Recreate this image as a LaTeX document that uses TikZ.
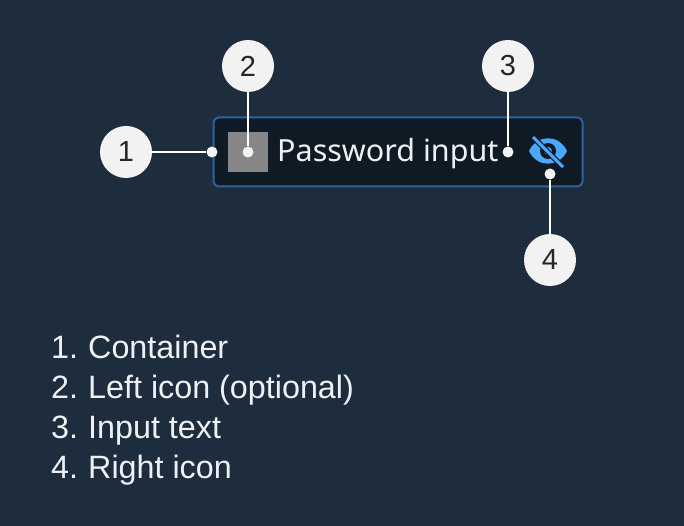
\documentclass[tikz,border=0pt]{standalone}
\usepackage{fontspec}
\setmainfont{Liberation Sans}
\newfontfamily\inputfont{Noto Sans}
\usepackage{xcolor}
\usetikzlibrary{positioning,calc}
\definecolor{pagebg}{HTML}{1E2D3D}
\definecolor{boxbg}{HTML}{0F1A25}
\definecolor{boxline}{HTML}{2F619B}
\definecolor{eyeblue}{HTML}{4AA8FF}
\definecolor{bubble}{HTML}{F2F2F2}
\definecolor{listtext}{HTML}{EEF1F4}
\tikzset{main node/.style={circle,fill=bubble,draw=none,minimum size=52pt,inner sep=0pt,text=black!85,font=\fontsize{29}{29}\selectfont},
  end dot/.style={circle,fill=bubble,draw=none,minimum size=11pt,inner sep=0pt},
  lead/.style={draw=white,line width=2pt},
  list line/.style={anchor=base west,inner sep=0pt,text=listtext,font=\fontsize{32.3}{32.3}\selectfont}}

\begin{document}
\begin{tikzpicture}[x=1pt,y=-1pt]
      \useasboundingbox[fill=pagebg] (0,0) rectangle (684,526);
      % input field
      \node[draw=boxline,fill=boxbg,line width=2pt,rounded corners=5pt,minimum width=369pt,minimum height=69pt,inner sep=0pt] (box) at (398,152) {};
      \node[fill=gray!95!white,minimum size=40pt,inner sep=0pt] (lefticon) at (248,152) {};
      \node[anchor=base west,inner sep=0pt,text=listtext,font=\inputfont\fontsize{30.5}{30.5}\selectfont] (inputtext) at (277,162) {Password input};
      % eye icon
      \fill[eyeblue] (529,151) .. controls (537,134) and (559,134) .. (567,151) .. controls (559,168) and (537,168) .. (529,151) -- cycle;
      \fill[boxbg] (548,151) circle (8pt);
      \fill[eyeblue] (548,151) circle (4pt);
      \draw[boxbg,line width=5.5pt] (531,135) -- (564,168);
      \draw[eyeblue,line width=3pt] (533,137) -- (563,167);
      \coordinate (eye) at (550,174);
      % callouts
      \node[main node] (1) at (126,152) {1};
      \node[main node] (2) at (248,66) {2};
      \node[main node] (3) at (508,66) {3};
      \node[main node] (4) at (550,260) {4};
      \node[end dot] (d1) at (212,152) {};
      \node[end dot] (d2) at (248,152) {};
      \node[end dot] (d3) at (508,152) {};
      \node[end dot] (d4) at (eye) {};
      \draw[lead] (1) -- (d1);
      \draw[lead] (2) -- (d2);
      \draw[lead] (3) -- (d3);
      \draw[lead] (4) -- (d4);
      % legend
      \node[list line] (l1) at (51,358) {1.};
      \node[list line] (l2) at (51,398) {2.};
      \node[list line] (l3) at (51,438) {3.};
      \node[list line] (l4) at (51,478) {4.};
      \node[list line] (t1) at (88,358) {Container};
      \node[list line] (t2) at (88,398) {Left icon (optional)};
      \node[list line] (t3) at (88,438) {Input text};
      \node[list line] (t4) at (88,478) {Right icon};
    \end{tikzpicture}
\end{document}
